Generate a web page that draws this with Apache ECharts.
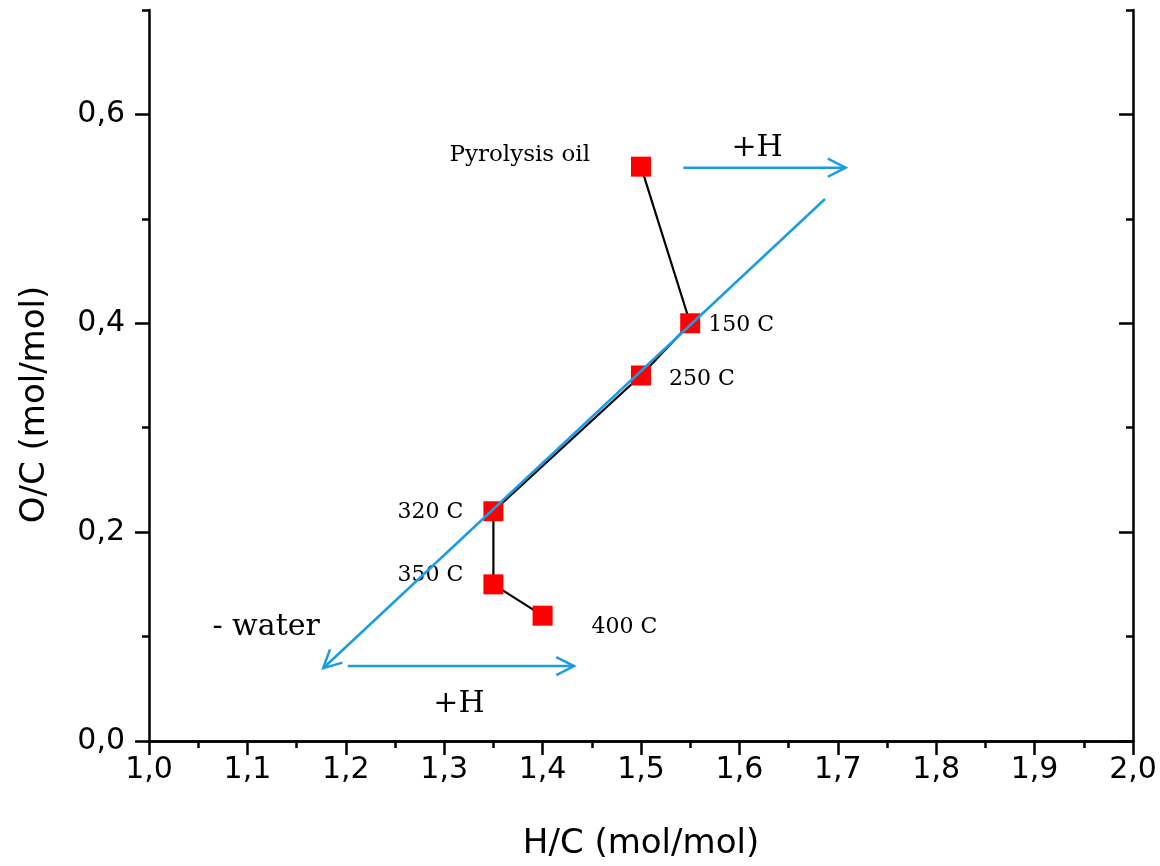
<!DOCTYPE html>
<html><head><meta charset="utf-8">
<script src="https://cdn.jsdelivr.net/npm/echarts@6/dist/echarts.min.js"></script>
<style>html,body{margin:0;padding:0;background:#fff}#c{width:1160px;height:866px}</style>
</head><body><div id="c"></div>
<script>
// ---- data ----
const pointNames = ['Pyrolysis oil', '150 C', '250 C', '320 C', '350 C', '400 C'];
const hcValues = [1.50, 1.55, 1.50, 1.35, 1.35, 1.40];
const ocValues = [0.55, 0.40, 0.35, 0.22, 0.15, 0.12];

const arrowStartX = [1.543, 1.687, 1.202];
const arrowStartY = [0.549, 0.519, 0.0717];
const arrowEndX = [1.708, 1.177, 1.432];
const arrowEndY = [0.549, 0.0697, 0.0717];

const noteTexts = ['- water', '+H', '+H'];
const noteX = [1.119, 1.618, 1.315];
const noteY = [0.109, 0.5675, 0.0353];

const yMajorTicks = [0, 0.2, 0.4, 0.6];

// ---- styles ----
const BLUE = '#1b9ce3';
const labelPlacement = [
  {position: 'left', distance: 41, offset: [0, -12], fontSize: 23},
  {position: 'right', distance: 8, offset: [0, 2], fontSize: 22},
  {position: 'right', distance: 18, offset: [0, 4], fontSize: 22},
  {position: 'left', distance: 20, offset: [0, 1], fontSize: 22},
  {position: 'left', distance: 20, offset: [0, -9], fontSize: 22},
  {position: 'right', distance: 39, offset: [0, 12], fontSize: 22}
];

const pointData = hcValues.map((x, i) => ({
  name: pointNames[i],
  value: [x, ocValues[i]],
  label: Object.assign({show: true, formatter: '{b}', color: '#000', fontFamily: 'DejaVu Serif', textBorderWidth: 0}, labelPlacement[i])
}));
const arrowData = arrowStartX.map((x, i) => [x, arrowStartY[i], arrowEndX[i], arrowEndY[i]]);
const noteData = noteTexts.map((t, i) => ({name: t, value: [noteX[i], noteY[i]]}));

const fmt = v => v.toFixed(1).replace('.', ',');
const lineStyle = {color: '#000', width: 2.5};
const labelFont = {fontFamily: 'DejaVu Sans', fontSize: 30, color: '#000'};

const chart = echarts.init(document.getElementById('c'), null, {renderer: 'canvas'});
chart.setOption({
  backgroundColor: '#ffffff',
  animation: false,
  grid: {left: 149, right: 27, top: 10, bottom: 124, containLabel: false},
  xAxis: [
    {type: 'value', position: 'bottom', min: 1, max: 2, interval: 0.1,
     axisLine: {show: true, lineStyle}, splitLine: {show: false},
     axisTick: {show: true, inside: false, length: 14, lineStyle},
     minorTick: {show: true, splitNumber: 2, length: 7, lineStyle},
     axisLabel: Object.assign({margin: 14, formatter: fmt}, labelFont),
     name: 'H/C (mol/mol)', nameLocation: 'middle', nameGap: 86,
     nameTextStyle: {fontFamily: 'DejaVu Sans', fontSize: 34, color: '#000'}},
    {type: 'value', position: 'top', min: 1, max: 2, interval: 0.1,
     axisLine: {show: true, lineStyle}, splitLine: {show: false},
     axisTick: {show: true, inside: true, length: 14, lineStyle},
     minorTick: {show: true, splitNumber: 2, length: 7, lineStyle},
     axisLabel: {show: false}}
  ],
  yAxis: [
    {type: 'value', position: 'left', min: 0, max: 0.7,
     axisLine: {show: true, lineStyle}, splitLine: {show: false},
     axisTick: {show: true, inside: false, length: 14, lineStyle, customValues: yMajorTicks},
     axisLabel: Object.assign({margin: 24, formatter: fmt, customValues: yMajorTicks}, labelFont),
     name: 'O/C (mol/mol)', nameLocation: 'middle', nameGap: 97,
     nameTextStyle: {fontFamily: 'DejaVu Sans', fontSize: 34, color: '#000', padding: [0, 58, 0, 0]}},
    {type: 'value', position: 'left', min: 0, max: 0.7, interval: 0.1,
     axisLine: {show: false}, splitLine: {show: false},
     axisTick: {show: true, inside: false, length: 7, lineStyle},
     axisLabel: {show: false}},
    {type: 'value', position: 'right', min: 0, max: 0.7,
     axisLine: {show: true, lineStyle}, splitLine: {show: false},
     axisTick: {show: true, inside: true, length: 14, lineStyle, customValues: yMajorTicks},
     axisLabel: {show: false}},
    {type: 'value', position: 'right', min: 0, max: 0.7, interval: 0.1,
     axisLine: {show: false}, splitLine: {show: false},
     axisTick: {show: true, inside: true, length: 7, lineStyle},
     axisLabel: {show: false}}
  ],
  series: [
    {type: 'line', xAxisIndex: 0, yAxisIndex: 0, data: pointData,
     symbol: 'rect', symbolSize: 20,
     itemStyle: {color: '#ff0000'},
     lineStyle: {color: '#000', width: 2.2}, z: 3},
    {type: 'custom', xAxisIndex: 0, yAxisIndex: 0, data: arrowData, z: 5,
     encode: {x: [0, 2], y: [1, 3]},
     renderItem: function (params, api) {
       const p1 = api.coord([api.value(0), api.value(1)]);
       const p2 = api.coord([api.value(2), api.value(3)]);
       const ang = Math.atan2(p2[1] - p1[1], p2[0] - p1[0]);
       const L = 20, a = 0.47;
       const h1 = [p2[0] - L * Math.cos(ang - a), p2[1] - L * Math.sin(ang - a)];
       const h2 = [p2[0] - L * Math.cos(ang + a), p2[1] - L * Math.sin(ang + a)];
       return {type: 'group', children: [
         {type: 'line', shape: {x1: p1[0], y1: p1[1], x2: p2[0], y2: p2[1]},
          style: {stroke: BLUE, lineWidth: 2.5}},
         {type: 'polyline', shape: {points: [h1, p2, h2]},
          style: {stroke: BLUE, lineWidth: 2.5, fill: null}}
       ]};
     }},
    {type: 'scatter', xAxisIndex: 0, yAxisIndex: 0, data: noteData, symbolSize: 0, z: 4,
     itemStyle: {color: '#000', opacity: 1},
     label: {show: true, position: 'inside', formatter: '{b}', color: '#000', opacity: 1,
             textBorderWidth: 0, textBorderColor: 'transparent',
             fontFamily: 'DejaVu Serif', fontSize: 30}}
  ]
});
</script></body></html>
